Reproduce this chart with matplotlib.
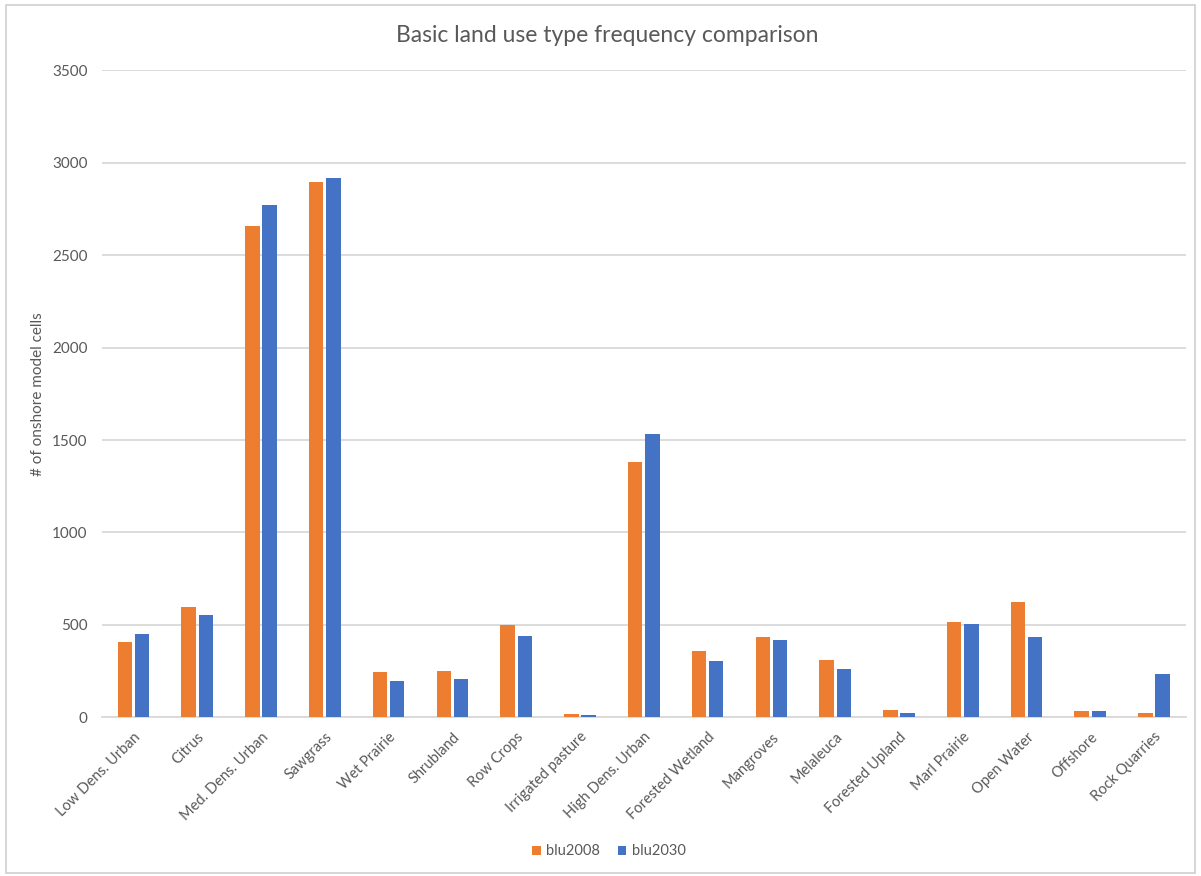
import matplotlib
matplotlib.use("Agg")
import matplotlib.pyplot as plt
import numpy as np
from matplotlib.patches import Rectangle

plt.rcParams['font.family'] = ['Lato', 'DejaVu Sans']

categories = ["Low Dens. Urban", "Citrus", "Med. Dens. Urban", "Sawgrass", "Wet Prairie",
              "Shrubland", "Row Crops", "Irrigated pasture", "High Dens. Urban",
              "Forested Wetland", "Mangroves", "Melaleuca", "Forested Upland",
              "Marl Prairie", "Open Water", "Offshore", "Rock Quarries"]
blu2008 = [406, 595, 2659, 2896, 247, 249, 498, 18, 1383, 359, 433, 308, 41, 518, 622, 32, 25]
blu2030 = [449, 553, 2770, 2916, 198, 206, 442, 13, 1534, 303, 420, 262, 23, 505, 433, 32, 233]
yticks = [0, 500, 1000, 1500, 2000, 2500, 3000, 3500]

orange = '#ED7D31'
blue = '#4472C4'
grid = '#D9D9D9'
txt = '#595959'

fig = plt.figure(figsize=(12.01, 8.76), dpi=100)
fig.patches.append(Rectangle((0.005, 0.003), 0.99, 0.991, transform=fig.transFigure,
                             fill=False, edgecolor='#D0D0D0', linewidth=1.2))
ax = fig.add_axes([0.0846, 0.1812, 0.9029, 0.7385])

x = np.arange(len(categories))
w = 0.227
off = 0.135
ax.bar(x - off, blu2008, width=w, color=orange, label='blu2008', zorder=3)
ax.bar(x + off, blu2030, width=w, color=blue, label='blu2030', zorder=3)

ax.set_xlim(-0.5, len(categories) - 0.5)
ax.set_ylim(0, 3500)
ax.set_yticks(yticks)
ax.set_yticklabels([str(v) for v in yticks], fontsize=11, color=txt)
ax.yaxis.grid(True, color=grid, linewidth=1.3, zorder=0)
ax.set_axisbelow(True)
for s in ['top', 'right', 'left']:
    ax.spines[s].set_visible(False)
ax.spines['bottom'].set_color(grid)
ax.spines['bottom'].set_linewidth(1.3)
ax.tick_params(axis='y', length=0, pad=10)
ax.tick_params(axis='x', length=0, pad=9)
ax.set_xticks(x)
ax.set_xticklabels(categories, rotation=45, ha='right', rotation_mode='anchor',
                   fontsize=10.5, color=txt)
ax.set_ylabel('# of onshore model cells', fontsize=11, color=txt, labelpad=5)

fig.text(0.506, 0.96, 'Basic land use type frequency comparison', ha='center', va='center',
         fontsize=16.5, color=txt)

leg = ax.legend(loc='center', bbox_to_anchor=(0.507, 0.028), bbox_transform=fig.transFigure,
                ncol=2, frameon=False, fontsize=10.5, handlelength=0.6, handleheight=0.6,
                handletextpad=0.35, columnspacing=1.2, labelcolor=txt)

fig.savefig('out.png', dpi=100)
